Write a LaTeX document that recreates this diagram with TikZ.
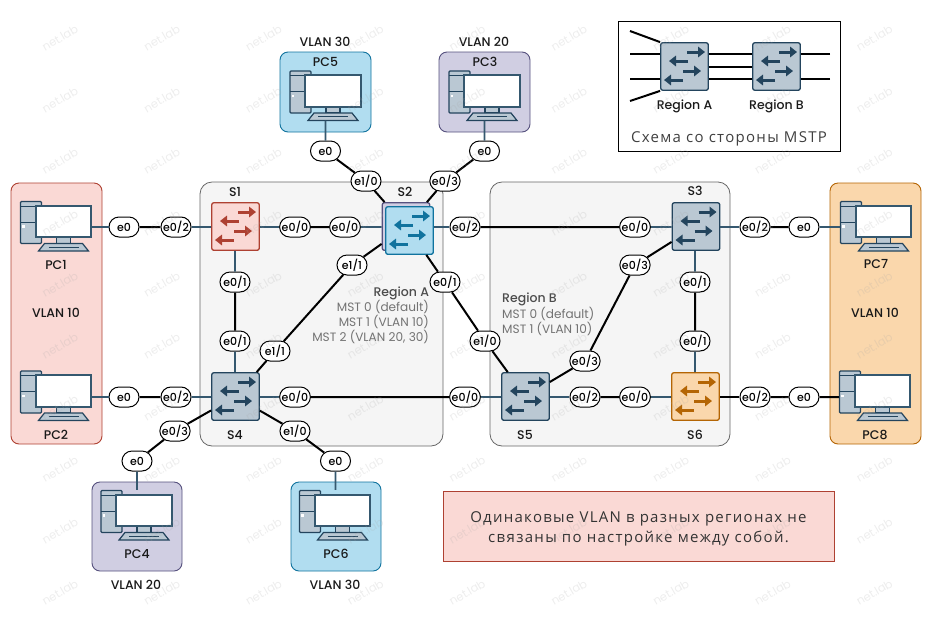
\documentclass[tikz,border=0pt]{standalone}
\usepackage{fontspec}
\setmainfont{Poppins}
\newfontfamily\medfont{Poppins Medium}
\newfontfamily\rufont[LetterSpace=8.5]{Open Sans}
\usetikzlibrary{arrows.meta, positioning, calc, shapes.misc}
\definecolor{redf}{HTML}{FAD9D5}
\definecolor{redc}{HTML}{AE4132}
\definecolor{bluef}{HTML}{B1DDF0}
\definecolor{bluec}{HTML}{10739E}
\definecolor{purpf}{HTML}{D0CEE2}
\definecolor{purpc}{HTML}{56517E}
\definecolor{orgf}{HTML}{FAD7AC}
\definecolor{orgc}{HTML}{B46504}
\definecolor{grayf}{HTML}{BAC8D3}
\definecolor{grayc}{HTML}{23445D}
\definecolor{linkc}{HTML}{35586F}
\tikzset{
  region/.style={draw=black!60, fill=black!4, line width=0.8pt, rounded corners=12pt},
  pcbox/.style={draw=#1c, fill=#1f, line width=0.9pt, rounded corners=8pt},
  note/.style={draw=redc, fill=redf, line width=1pt},
  port/.style={rounded rectangle, draw=black, fill=white, line width=1pt,
    minimum width=30pt, minimum height=20pt, inner sep=0pt, font=\fontsize{11}{12}\medfont},
  swbox/.style={rectangle, line width=1.3pt, rounded corners=2pt,
    minimum size=47.5pt, inner sep=0pt},
  swarrow/.style={line width=3pt, -{Triangle[length=7pt,width=10.5pt]}},
  lk/.style={black, line width=2pt},
  lkb/.style={linkc, line width=1.6pt},
  txt/.style={font=\fontsize{12.5}{14}\medfont, text=black!90},
  info/.style={font=\fontsize{12.1}{15}\selectfont, text=black!55, align=#1},
  wm/.style={font=\fontsize{11.5}{13}\selectfont, text=black!35, opacity=0.2, rotate=30},
}
\newcommand{\swt}[4]{%
  \node[swbox, draw=#4, fill=#3] (#1) at #2 {};
  \draw[#4, swarrow] ($#2+(2.5,-14.5)$) -- ($#2+(20.5,-14.5)$);
  \draw[#4, swarrow] ($#2+(3.5,-5.5)$) -- ($#2+(-15.5,-5.5)$);
  \draw[#4, swarrow] ($#2+(-1.5,4.5)$) -- ($#2+(16.5,4.5)$);
  \draw[#4, swarrow] ($#2+(-1.5,13.5)$) -- ($#2+(-20.5,13.5)$);
}
\newcommand{\pcicon}[2]{%
  \node[draw=grayc, fill=grayf, line width=1.3pt, rounded corners=1pt, minimum width=21pt,
        minimum height=42pt, inner sep=0pt] (#1t) at ($#2+(-32.5,1)$) {};
  \draw[grayc, line width=1pt] ($#2+(-43,-15.5)$) -- ($#2+(-22,-15.5)$)
    ($#2+(-43,0.5)$) -- ($#2+(-22,0.5)$);
  \fill[white] ($#2+(-41.5,3.5)$) rectangle ($#2+(-39,6)$);
  \draw[grayc, fill=grayf, line width=1.2pt] ($#2+(-7,15)$) rectangle ($#2+(7,22)$);
  \draw[grayc, fill=grayf, line width=1.2pt] ($#2+(-19,22)$) -- ($#2+(19,22)$)
    -- ($#2+(25,29.5)$) -- ($#2+(-25,29.5)$) -- cycle;
  \draw[grayc, line width=0.8pt] ($#2+(-15,25.5)$) -- ($#2+(15,25.5)$);
  \coordinate (#1k) at ($#2+(0,29.5)$);
  \node[draw=linkc, fill=white, line width=1.8pt, minimum width=55.5pt, minimum height=31.5pt,
        inner sep=0pt] (#1) at #2 {};
}

\begin{document}
\begin{tikzpicture}[>=Stealth, x=1pt, y=-1pt]
  \useasboundingbox (0,0) rectangle (935,633);
  % regions
  \draw[region] (200,182) rectangle (443,446);
  \draw[region] (490,182) rectangle (730,446);
  % host boxes
  \draw[pcbox=red] (11,183) rectangle (102,444);
  \draw[pcbox=org] (830,183) rectangle (921,444);
  \draw[pcbox=blue] (280,52) rectangle (371,132);
  \draw[pcbox=purp] (439,52) rectangle (530,132);
  \draw[pcbox=purp] (92,482) rectangle (182,571);
  \draw[pcbox=blue] (291,482) rectangle (381,571);
  \foreach \n/\x/\y in {pc1/63.5/221.5, pc2/63.5/391, pc3/492/91, pc4/144/510.5,
                        pc5/333/91, pc6/342.5/510.5, pc7/883.5/221.5, pc8/882.5/391}{
    \pcicon{\n}{(\x,\y)}
  }
  % switches
  \swt{s1}{(235.5,226.5)}{redf}{redc}
  \node[swbox, draw=purpc, fill=purpf] (s2b) at (406,226.5) {};
  \swt{s2}{(409.5,230.5)}{bluef}{bluec}
  \swt{s3}{(696,226.5)}{grayf}{grayc}
  \swt{s4}{(235.5,396.5)}{grayf}{grayc}
  \swt{s5}{(525.5,396.5)}{grayf}{grayc}
  \swt{s6}{(695.5,396.5)}{orgf}{orgc}
  % ports
  \foreach \n/\x/\y/\t in {a/124/227/e0, b/176/227/e0\slash 2, c/295/227/e0\slash 0, d/345/227/e0\slash 0,
      e/465/227/e0\slash 2, f/635/227/e0\slash 0, g/755/227/e0\slash 2, h/804/227/e0,
      i/235/282/e0\slash 1, j/235/341/e0\slash 1, k/352/265/e1\slash 1, l/275/351/e1\slash 1,
      m/366/181/e1\slash 0, n/325.5/151/e0, o/445/181/e0\slash 3, p/484.5/151/e0,
      q/445/282/e0\slash 1, r/485/341/e1\slash 0, s/635/265/e0\slash 3, t/585/361/e0\slash 3,
      u/695/282/e0\slash 1, v/695/341/e0\slash 1,
      aa/124/397/e0, ab/176/397/e0\slash 2, ac/295/397/e0\slash 0, ad/465/397/e0\slash 0,
      ae/585/397/e0\slash 2, af/635/397/e0\slash 0, ag/755/397/e0\slash 2, ah/804/397/e0,
      ai/175/431/e0\slash 3, aj/137/461/e0, ak/295/431/e1\slash 0, al/335.5/461/e0}{
    \node[port] (p\n) at (\x,\y) {\t};
  }
  % links
  \draw[lkb] (pa) -- (pa -| pc1.east);
  \draw[lk] (pa) -- (pb);
  \draw[lkb] (pb) -- (pb -| s1.west);
  \draw[lkb] (pc) -- (pc -| s1.east);
  \draw[lk] (pc) -- (pd);
  \draw[lkb] (pd) -- (pd -| s2b.west);
  \draw[lkb] (pe) -- (pe -| s2.east);
  \draw[lk] (pe) -- (pf);
  \draw[lkb] (pf) -- (pf -| s3.west);
  \draw[lkb] (pg) -- (pg -| s3.east);
  \draw[lk] (pg) -- (ph);
  \draw[lkb] (ph) -- (ph -| pc7t.west);
  \draw[lkb] (pi) -- (pi |- s1.south);
  \draw[lk] (pi) -- (pj);
  \draw[lkb] (pj) -- (pj |- s4.north);
  \draw[lk] (pk) -- (s2b);
  \draw[lk] (pk) -- (pl);
  \draw[lk] (pl) -- (s4);
  \draw[lk] (pm) -- (s2b);
  \draw[lk] (pm) -- (pn);
  \draw[lkb] (pn) -- (pn |- pc5k);
  \draw[lk] (po) -- (s2b);
  \draw[lk] (po) -- (pp);
  \draw[lkb] (pp) -- (pp |- pc3k);
  \draw[lk] (pq) -- (s2);
  \draw[lk] (pq) -- (pr);
  \draw[lk] (pr) -- (s5);
  \draw[lk] (ps) -- (s3);
  \draw[lk] (ps) -- (pt);
  \draw[lk] (pt) -- (s5);
  \draw[lkb] (pu) -- (pu |- s3.south);
  \draw[lk] (pu) -- (pv);
  \draw[lkb] (pv) -- (pv |- s6.north);
  \draw[lkb] (paa) -- (paa -| pc2.east);
  \draw[lk] (paa) -- (pab);
  \draw[lkb] (pab) -- (pab -| s4.west);
  \draw[lkb] (pac) -- (pac -| s4.east);
  \draw[lk] (pac) -- (pad);
  \draw[lkb] (pad) -- (pad -| s5.west);
  \draw[lkb] (pae) -- (pae -| s5.east);
  \draw[lk] (pae) -- (paf);
  \draw[lkb] (paf) -- (paf -| s6.west);
  \draw[lk] (pag) -- (pag -| s6.east);
  \draw[lk] (pag) -- (pah);
  \draw[lk] (pah) -- (pah -| pc8t.west);
  \draw[lk] (pai) -- (s4);
  \draw[lk] (pai) -- (paj);
  \draw[lkb] (paj) -- (paj |- pc4t.north);
  \draw[lk] (pak) -- (s4);
  \draw[lk] (pak) -- (pal);
  \draw[lkb] (pal) -- (pal |- pc6t.north);
  % texts
  \foreach \n/\x/\y/\t in {s1/235/192/S1, s2/405/192/S2, s3/695/191/S3, s4/235/435/S4, s5/525/435/S5,
      s6/695/435/S6, pc1/56/265/PC1, pc2/56/435/PC2, pc3/485/62/PC3, pc4/137/554/PC4, pc5/325.5/62/PC5,
      pc6/336/554/PC6, pc7/876/264/PC7, pc8/875/435/PC8}{
    \node[txt] (t\n) at (\x,\y) {\t};
  }
  \foreach \n/\x/\y/\t in {a/56/313/VLAN 10, b/875/313/VLAN 10, c/325/42/VLAN 30, d/484/42/VLAN 20,
      e/136/585/VLAN 20, f/335/585/VLAN 30}{
    \node[txt] (v\n) at (\x,\y) {\t};
  }
  \node[txt, text=black!70, anchor=east] (rega) at (432.5,293) {Region A};
  \node[info=right, anchor=north east] (infa) at (432.5,297) {MST 0 (default)\\MST 1 (VLAN 10)\\MST 2 (VLAN 20, 30)};
  \node[txt, text=black!70, anchor=west] (regb) at (498.7,299.5) {Region B};
  \node[info=left, anchor=north west] (infb) at (498.7,304) {MST 0 (default)\\MST 1 (VLAN 10)};
  % note
  \node[note, minimum width=391pt, minimum height=70pt] (nt) at (638.5,526) {};
  \node[align=center, text=black!80, font=\fontsize{15}{20}\rufont] (ntt) at (638.5,529)
    {Одинаковые VLAN в разных регионах не\\связаны по настройке между собой.};
  % legend
  \node[draw=black, line width=1pt, fill=white, minimum width=222pt, minimum height=130pt] (lgd) at (729,86) {};
  \swt{lga}{(684.5,66.5)}{grayf}{grayc}
  \swt{lgb}{(776.5,66.5)}{grayf}{grayc}
  \node[txt] (lgta) at (684.5,106) {Region A};
  \node[txt] (lgtb) at (776.5,106) {Region B};
  \node[font=\fontsize{15}{16}\rufont, text=black!75] (lgt) at (729,138.5) {Схема со стороны MSTP};
  \coordinate (la) at (630,31);
  \coordinate (lb) at (630,54);
  \coordinate (lc) at (630,79);
  \coordinate (ld) at (630,101);
  \coordinate (le) at (830,54);
  \coordinate (lf) at (830,79);
  \draw[lk] (la) -- (lga.north west);
  \draw[lk] (lb) -- (lb -| lga.west);
  \draw[lk] (lc) -- (lc -| lga.west);
  \draw[lk] (ld) -- (lga.south west);
  \draw[lk] (le) -- (le -| lgb.east);
  \draw[lk] (lf) -- (lf -| lgb.east);
  \draw[lk] ([yshift=12.5pt]lga.east) -- ([yshift=12.5pt]lgb.west);
  \draw[lk] (lga) -- (lgb);
  \draw[lk] ([yshift=-12.5pt]lga.east) -- ([yshift=-12.5pt]lgb.west);
  % watermark
  \foreach \i in {0,...,8}{
    \foreach \j in {0,...,9}{
      \node[wm] (w\i\j) at ({60+101.8*\i},{38+61.6*\j}) {net.lab};
    }
  }
\end{tikzpicture}
\end{document}
